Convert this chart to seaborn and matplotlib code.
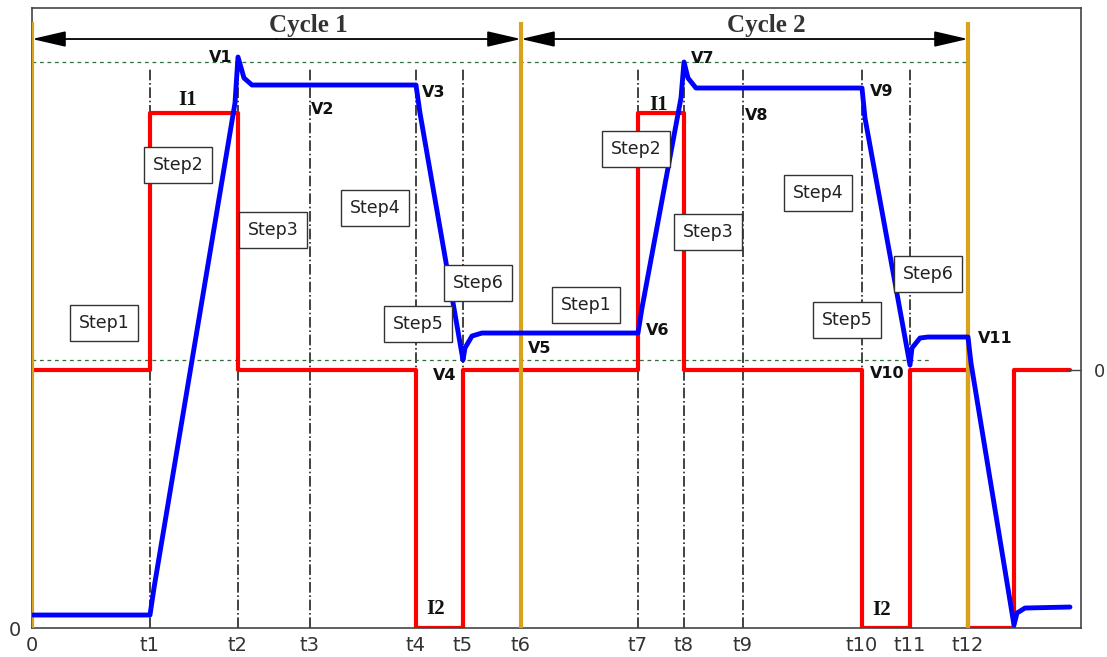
import seaborn as sns
import matplotlib.pyplot as plt
import pandas as pd

# time markers (arbitrary units)
t_names = ["0", "t1", "t2", "t3", "t4", "t5", "t6", "t7", "t8", "t9", "t10", "t11", "t12"]
t_vals = [0, 11.8, 20.6, 27.8, 38.4, 43.1, 48.9, 60.6, 65.2, 71.1, 83.0, 87.8, 93.6]

# current waveform (red), step levels
i_base, i_high, i_low = 25.8, 51.5, 0.0
cur_x = [0, 11.8, 20.6, 38.4, 43.1, 60.6, 65.2, 83.0, 87.8, 93.6, 98.2, 103.8]
cur_y = [i_base, i_high, i_base, i_low, i_base, i_high, i_base, i_low, i_base, i_low, i_base, i_base]

# voltage waveform (blue)
volt_x = [0.1, 11.8, 12.2, 20.3, 20.6, 21.2, 22.0, 38.4, 38.8, 43.1, 43.3, 44.0, 45.0,
          60.6, 61.0, 64.9, 65.2, 65.6, 66.4, 83.0, 83.3, 87.8, 88.0, 88.8, 89.6,
          93.6, 93.9, 98.2, 98.5, 99.3, 103.8]
volt_y = [1.3, 1.3, 4.0, 52.5, 57.1, 55.0, 54.3, 54.3, 51.5, 26.8, 28.0, 29.2, 29.5,
          29.5, 32.0, 53.0, 56.6, 55.0, 54.0, 54.0, 51.0, 26.3, 28.0, 29.0, 29.1,
          29.1, 26.5, 0.3, 1.5, 2.0, 2.1]

v_hi, v_lo = 56.6, 26.8

cycle_names = ["Cycle 1", "Cycle 2"]
cycle_x = [27.6, 73.4]

step_names = ["Step1", "Step2", "Step3", "Step4", "Step5", "Step6",
              "Step1", "Step2", "Step3", "Step4", "Step5", "Step6"]
step_x = [7.2, 14.6, 24.1, 34.3, 38.6, 44.6, 55.4, 60.4, 67.6, 78.6, 81.5, 89.6]
step_y = [30.5, 46.3, 39.8, 42.0, 30.4, 34.5, 32.3, 47.9, 39.6, 43.5, 30.8, 35.4]

v_names = ["V1", "V2", "V3", "V4", "V5", "V6", "V7", "V8", "V9", "V10", "V11"]
v_x = [18.9, 29.1, 40.2, 41.3, 50.8, 62.6, 67.1, 72.5, 85.0, 85.5, 96.3]
v_y = [57.1, 51.9, 53.6, 25.3, 28.0, 29.8, 57.0, 51.3, 53.7, 25.5, 29.0]

i_names = ["I1", "I1", "I2", "I2"]
i_x = [15.6, 62.7, 40.4, 85.0]
i_y = [52.8, 52.3, 1.9, 1.8]

sns.set_style("white")
plt.rcParams["font.family"] = ["DejaVu Sans"]

fig = plt.figure(figsize=(11.07, 6.57), dpi=100)
ax = fig.add_axes([0.0289, 0.0441, 0.9476, 0.9437])
ax.set_xlim(0, 104.9)
ax.set_ylim(0, 62)

# guide lines
dash_t = [t for t in t_vals if t not in (t_vals[0], t_vals[6], t_vals[12])]
ax.vlines(dash_t, 0, v_hi - 0.5, colors="#222222", linestyles="-.", lw=1.2, zorder=1)
ax.hlines(v_hi, 0, t_vals[12], colors="#2f6f3a", linestyles=(0, (3, 3)), lw=0.9, zorder=1)
ax.hlines(v_lo, 0, 89.8, colors="#2f6f3a", linestyles=(0, (3, 3)), lw=0.9, zorder=1)

cur = pd.DataFrame({"t": cur_x, "i": cur_y})
volt = pd.DataFrame({"t": volt_x, "v": volt_y})
sns.lineplot(data=cur, x="t", y="i", ax=ax, color="#ff0000", lw=3,
             drawstyle="steps-post", estimator=None, sort=False, zorder=2)
sns.lineplot(data=volt, x="t", y="v", ax=ax, color="#0000ff", lw=3.5,
             estimator=None, sort=False, zorder=4)

ax.vlines([t_vals[0], t_vals[6], t_vals[12]], 0, 60.6, colors="#d9a21b", lw=3, zorder=3)

# cycle arrows
arrow_kw = dict(arrowstyle="-|>,head_length=1.3,head_width=0.3", color="black",
                lw=1.3, shrinkA=0, shrinkB=0, mutation_scale=16)
for k, (a, b) in enumerate([(t_vals[0], t_vals[6]), (t_vals[6], t_vals[12])]):
    mid = (a + b) / 2
    ax.annotate("", xy=(a, 58.9), xytext=(mid, 58.9), arrowprops=arrow_kw)
    ax.annotate("", xy=(b, 58.9), xytext=(mid, 58.9), arrowprops=arrow_kw)
    ax.text(cycle_x[k], 59.1, cycle_names[k], ha="center", va="bottom", fontsize=18,
            fontweight="bold", family="Liberation Serif", color="#333333")

for n, x, y in zip(step_names, step_x, step_y):
    ax.text(x, y, n, ha="center", va="center", fontsize=12.5, color="#222222", zorder=5,
            bbox=dict(boxstyle="square,pad=0.5", fc="white", ec="#333333", lw=1))

for n, x, y in zip(v_names, v_x, v_y):
    ax.text(x, y, n, ha="center", va="center", fontsize=11.5, fontweight="bold",
            color="#111111", zorder=5)

for n, x, y in zip(i_names, i_x, i_y):
    ax.text(x, y, n, ha="center", va="center", fontsize=15, fontweight="bold",
            family="Liberation Serif", color="#111111", zorder=5)

ax.set_xticks(t_vals)
ax.set_xticklabels(t_names)
ax.set_yticks([0])
ax.set_yticklabels(["0"])
ax.tick_params(axis="x", length=0, pad=6, labelsize=14, labelcolor="#333333")
ax.tick_params(axis="y", length=0, pad=8, labelsize=14, labelcolor="#333333")
ax.set_xlabel("")
ax.set_ylabel("")
for s in ax.spines.values():
    s.set_color("#444444")
    s.set_linewidth(1.2)

ax2 = ax.twinx()
ax2.set_ylim(0, 62)
ax2.set_yticks([i_base])
ax2.set_yticklabels(["0"])
ax2.tick_params(axis="y", direction="in", length=10, width=1, pad=9,
                labelsize=13, labelcolor="#333333", color="#444444")
for s in ax2.spines.values():
    s.set_visible(False)

fig.savefig("out.png", dpi=100)
